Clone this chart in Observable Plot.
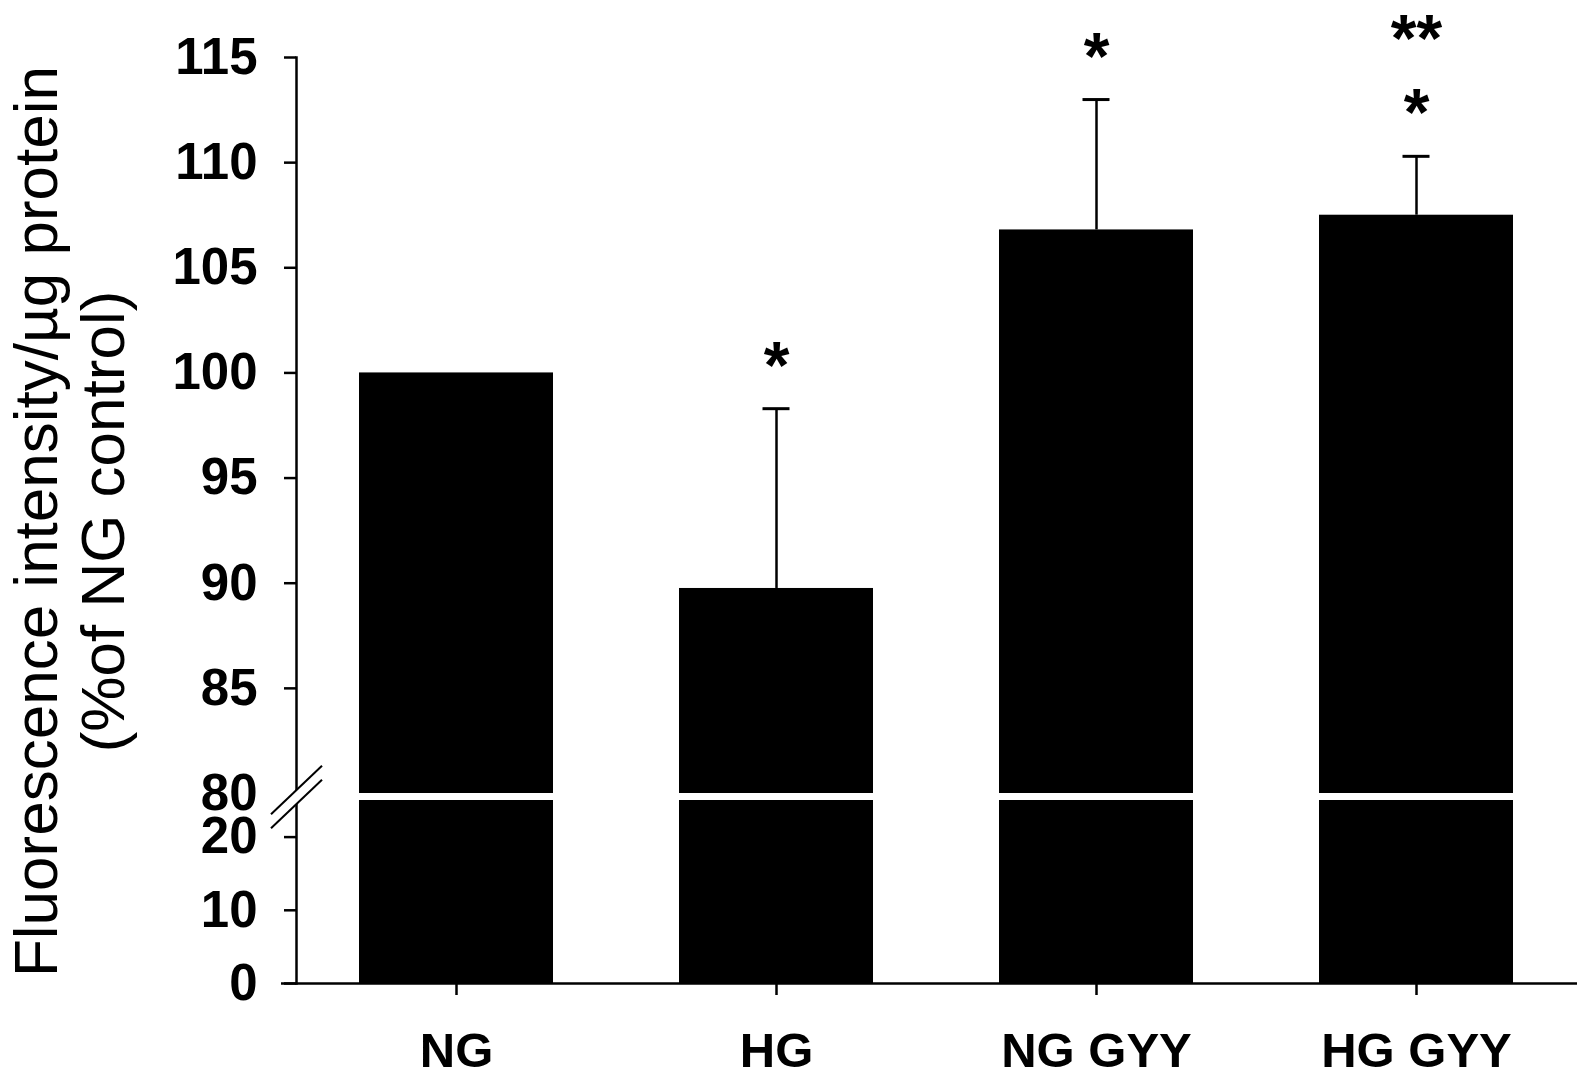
<!DOCTYPE html>
<html>
<head>
<meta charset="utf-8">
<script src="https://cdn.jsdelivr.net/npm/d3@7"></script>
<script src="https://cdn.jsdelivr.net/npm/@observablehq/plot@0.6"></script>
<style>
  html, body { margin: 0; padding: 0; background: #fff; }
  #chart { width: 1589px; }
  #chart svg { display: block; }
</style>
</head>
<body>
<div id="chart"></div>
<script>
// ---- data ----
const groups = ["NG", "HG", "NG GYY", "HG GYY"];
const means = [100, 89.75, 106.8, 107.5];
const errTop = [null, 98.3, 113.0, 110.3];
const starsRow1 = ["", "*", "*", "*"];
const starsRow2 = ["", "", "", "**"];
const upperDomain = [80, 115];
const lowerDomain = [0, 25];
const upperTicks = [85, 90, 95, 100, 105, 110, 115];
const breakTicks = [80];
const lowerTicks = [0, 10, 20];
const yTitle = "Fluorescence intensity/µg protein\n(%of NG control)";

const data = groups.map((g, i) => ({group: g, value: means[i], hi: errTop[i], s1: starsRow1[i], s2: starsRow2[i]}));
const errData = data.filter(d => d.hi != null);

const FONT = "'Liberation Sans', Arial, Helvetica, sans-serif";
const xOpts = {domain: groups, paddingInner: 0.393, paddingOuter: 0.192, label: null};
const yAxisText = {fontSize: 51, fontWeight: "bold"};
const xAxisText = {fontSize: 49, fontWeight: "bold"};
const starText = {fontSize: 66, fontWeight: "bold", lineAnchor: "bottom", fill: "#000"};
const svgStyle = {fontFamily: FONT, fontSize: "49px", fontWeight: "bold", overflow: "visible", background: "transparent", color: "#000"};

const upper = Plot.plot({
  width: 1589, height: 796,
  marginLeft: 296, marginRight: 12, marginTop: 57, marginBottom: 3,
  style: svgStyle,
  x: {...xOpts, axis: null},
  y: {domain: upperDomain, label: null},
  marks: [
    Plot.barY(data, {x: "group", y: "value", fill: "#000", clip: true}),
    Plot.ruleX(errData, {x: "group", y1: "value", y2: "hi", stroke: "#000", strokeWidth: 2.5}),
    Plot.tickY(errData, {x: "group", y: "hi", stroke: "#000", strokeWidth: 3, inset: 83.5}),
    Plot.text(data, {x: "group", y: d => d.hi ?? d.value, text: "s1", dy: -21, ...starText}),
    Plot.text(data, {x: "group", y: d => d.hi ?? d.value, text: "s2", dy: -95, ...starText}),
    Plot.frame({anchor: "left", stroke: "#000", strokeWidth: 2.5}),
    Plot.axisY({ticks: upperTicks, tickSize: 12, tickPadding: 27, strokeWidth: 2.5, ...yAxisText}),
    Plot.axisY({ticks: breakTicks, tickSize: 0, tickPadding: 39, ...yAxisText}),
    Plot.text([yTitle], {text: d => d, frameAnchor: "left", rotate: -90, dx: -227, dy: 96,
      fontSize: 62, fontWeight: "normal", lineHeight: 1.08, textAnchor: "middle", lineAnchor: "middle", fill: "#000"})
  ]
});

function breakMark(index, scales, values, dimensions) {
  const cx = dimensions.marginLeft + 0.5;
  const cy = scales.y(lowerDomain[1]) - 3;
  const hx = 25.5, hy = 24.2, off = 7;
  const g = d3.create("svg:g");
  g.append("polygon")
    .attr("points", [
      [cx - hx, cy - off + hy], [cx + hx, cy - off - hy],
      [cx + hx, cy + off - hy], [cx - hx, cy + off + hy]
    ].map(p => p.join(",")).join(" "))
    .attr("fill", "#fff");
  for (const o of [-off, off]) {
    g.append("line")
      .attr("x1", cx - hx).attr("y1", cy + o + hy)
      .attr("x2", cx + hx).attr("y2", cy + o - hy)
      .attr("stroke", "#000").attr("stroke-width", 2);
  }
  return g.node();
}

const lower = Plot.plot({
  width: 1589, height: 281,
  marginLeft: 296, marginRight: 12, marginTop: 4, marginBottom: 94,
  style: svgStyle,
  x: {...xOpts},
  y: {domain: lowerDomain, label: null},
  marks: [
    Plot.barY(data, {x: "group", y: "value", fill: "#000", clip: true}),
    Plot.frame({anchor: "left", stroke: "#000", strokeWidth: 2.5}),
    Plot.ruleY([0], {stroke: "#000", strokeWidth: 2.5, insetLeft: -15}),
    Plot.axisY({ticks: lowerTicks, tickSize: 12, tickPadding: 27, strokeWidth: 2.5, ...yAxisText}),
    Plot.axisX({tickSize: 12, tickPadding: 37, strokeWidth: 2.5, label: null, ...xAxisText}),
    breakMark
  ]
});

const chart = document.getElementById("chart");
chart.appendChild(upper);
chart.appendChild(lower);
</script>
</body>
</html>
